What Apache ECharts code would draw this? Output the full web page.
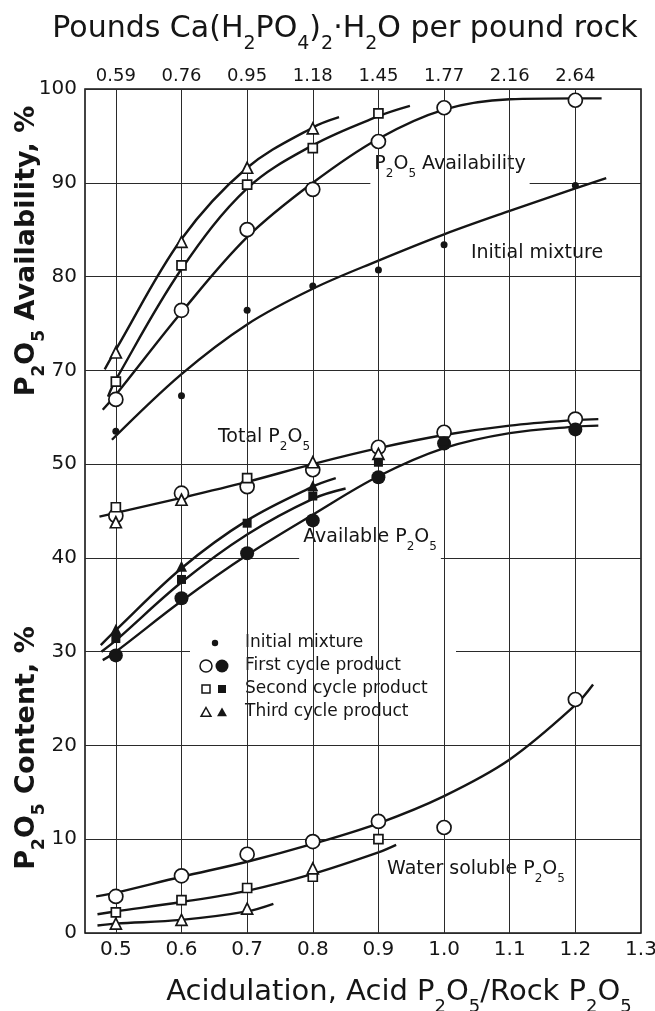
<!DOCTYPE html>
<html><head><meta charset="utf-8">
<script src="https://cdn.jsdelivr.net/npm/echarts@6/dist/echarts.min.js"></script>
<style>html,body{margin:0;padding:0;background:#fff}#c{width:655px;height:1011px}</style>
</head><body><div id="c"></div>
<script>
// ---------- axis ticks ----------
const acidulation = [0.5, 0.6, 0.7, 0.8, 0.9, 1.0, 1.1, 1.2];
const bottomTicks = [0.5, 0.6, 0.7, 0.8, 0.9, 1.0, 1.1, 1.2, 1.3];
const topTickLabels = ['0.59', '0.76', '0.95', '1.18', '1.45', '1.77', '2.16', '2.64'];
// upper (availability) scale is broken: availability % = plotted value + 10 above the 50 line
const availAxisShift = 10;

// ---------- P2O5 availability, % (markers) ----------
const initialAvailPts = [[0.5, 63.5], [0.6, 67.3], [0.7, 76.4], [0.8, 79.0], [0.9, 80.7], [1.0, 83.4], [1.2, 89.7]];
const firstAvailPts = [[0.5, 66.9], [0.6, 76.4], [0.7, 85.0], [0.8, 89.3], [0.9, 94.4], [1.0, 98.0], [1.2, 98.8]];
const secondAvailPts = [[0.5, 68.8], [0.6, 81.2], [0.7, 89.8], [0.8, 93.7], [0.9, 97.4]];
const thirdAvailPts = [[0.5, 71.9], [0.6, 83.7], [0.7, 91.6], [0.8, 95.8]];
// ---------- availability curves ----------
const initialAvailCurve = [[0.494, 62.6], [0.6, 69.6], [0.7, 74.9], [0.8, 78.7], [0.9, 81.7], [1.0, 84.5], [1.1, 87.0], [1.2, 89.4], [1.247, 90.5]];
const firstAvailCurve = [[0.48, 65.8], [0.5, 67.4], [0.6, 76.2], [0.7, 84.2], [0.8, 90.0], [0.9, 94.7], [1.0, 97.8], [1.1, 98.9], [1.2, 99.0], [1.24, 99.0]];
const secondAvailCurve = [[0.488, 67.2], [0.5, 69.0], [0.6, 80.8], [0.7, 89.4], [0.8, 94.0], [0.9, 97.1], [0.948, 98.2]];
const thirdAvailCurve = [[0.483, 70.1], [0.5, 72.2], [0.6, 84.0], [0.7, 91.6], [0.8, 95.9], [0.84, 97.0]];

// ---------- Total P2O5 content, % ----------
const totalFirstPts = [[0.5, 44.5], [0.6, 46.9], [0.7, 47.6], [0.8, 49.4], [0.9, 51.8], [1.0, 53.4], [1.2, 54.8]];
const totalSecondPts = [[0.5, 45.4], [0.7, 48.5]];
const totalThirdPts = [[0.5, 43.8], [0.6, 46.2], [0.8, 50.2], [0.9, 51.1]];
const totalCurve = [[0.475, 44.4], [0.5, 44.8], [0.6, 46.4], [0.7, 48.1], [0.8, 50.0], [0.9, 51.7], [1.0, 53.1], [1.1, 54.1], [1.2, 54.7], [1.235, 54.8]];

// ---------- Available P2O5 content, % ----------
const availFirstPts = [[0.5, 29.6], [0.6, 35.7], [0.7, 40.5], [0.8, 44.0], [0.9, 48.6], [1.0, 52.2], [1.2, 53.7]];
const availSecondPts = [[0.5, 31.4], [0.6, 37.7], [0.7, 43.7], [0.8, 46.6], [0.9, 50.2], [1.0, 52.5]];
const availThirdPts = [[0.5, 32.4], [0.6, 39.1], [0.8, 47.7]];
const availFirstCurve = [[0.48, 29.1], [0.5, 30.0], [0.6, 35.4], [0.7, 40.3], [0.8, 44.6], [0.9, 48.7], [1.0, 51.7], [1.1, 53.3], [1.2, 54.0], [1.235, 54.1]];
const availSecondCurve = [[0.478, 30.0], [0.5, 31.2], [0.6, 37.4], [0.7, 42.5], [0.8, 46.3], [0.85, 47.4]];
const availThirdCurve = [[0.477, 30.7], [0.5, 32.3], [0.6, 38.9], [0.7, 44.0], [0.8, 47.6], [0.835, 48.5]];

// ---------- Water soluble P2O5 content, % ----------
const waterFirstPts = [[0.5, 3.9], [0.6, 6.1], [0.7, 8.4], [0.8, 9.75], [0.9, 11.9], [1.0, 11.25], [1.2, 24.9]];
const waterSecondPts = [[0.5, 2.2], [0.6, 3.5], [0.7, 4.8], [0.8, 6.0], [0.9, 10.0]];
const waterThirdPts = [[0.5, 1.0], [0.6, 1.4], [0.7, 2.6], [0.8, 6.9]];
const waterFirstCurve = [[0.47, 3.9], [0.5, 4.3], [0.6, 6.0], [0.7, 7.6], [0.8, 9.5], [0.9, 11.7], [1.0, 14.6], [1.1, 18.5], [1.2, 24.3], [1.227, 26.5]];
const waterSecondCurve = [[0.472, 2.0], [0.5, 2.3], [0.6, 3.3], [0.7, 4.5], [0.8, 6.3], [0.9, 8.6], [0.927, 9.4]];
const waterThirdCurve = [[0.472, 0.8], [0.5, 1.0], [0.6, 1.4], [0.7, 2.3], [0.74, 3.1]];

// ---------- rendering ----------
const INK = '#151515';
const FONT = "'DejaVu Sans', sans-serif";
const shiftAvail = pts => pts.map(([x, a]) => [x, a - availAxisShift]);

function toRich(s) {
  let out = '', buf = '';
  for (let i = 0; i < s.length; i++) {
    if (s[i] === '_') { if (buf) out += '{n|' + buf + '}'; buf = ''; out += '{s|' + s[i + 1] + '}'; i++; }
    else buf += s[i];
  }
  if (buf) out += '{n|' + buf + '}';
  return out;
}
function richStyles(size, weight) {
  return {
    n: { fontSize: size, fontFamily: FONT, fontWeight: weight, lineHeight: Math.round(size * 1.3), verticalAlign: 'top', fill: INK, color: INK },
    s: { fontSize: Math.round(size * 0.62), fontFamily: FONT, fontWeight: weight, lineHeight: Math.round(size * 0.5), verticalAlign: 'bottom', fill: INK, color: INK }
  };
}
function label(str, x, y, size, opt) {
  opt = opt || {};
  const st = {
    text: toRich(str), rich: richStyles(size, opt.weight || 'normal'),
    align: 'center', verticalAlign: 'middle', textAlign: 'center', textVerticalAlign: 'middle'
  };
  if (opt.bg) { st.backgroundColor = '#fff'; st.padding = opt.pad || [1, 4, 1, 4]; }
  return { type: 'text', x: x, y: y, rotation: opt.rot || 0, z: opt.z || 3, silent: true, style: st };
}

function curveSeries(data) {
  return { type: 'line', data: data, smooth: 0.35, symbol: 'none', z: 4, silent: true,
    lineStyle: { color: INK, width: 2.4 } };
}
function markerSeries(data, symbol, size, filled) {
  return { type: 'scatter', data: data, symbol: symbol, symbolSize: size, z: 5, silent: true,
    itemStyle: { color: filled ? INK : '#fff', borderColor: INK, borderWidth: filled ? 0 : 1.7, opacity: 1 } };
}

const series = [
  { type: 'line', data: [], z: 1, silent: true,
    markLine: { symbol: 'none', silent: true, animation: false, label: { show: false },
      lineStyle: { color: '#2a2a2a', width: 1, type: 'solid' },
      data: acidulation.map(x => ({ xAxis: x })) } },
  curveSeries(shiftAvail(initialAvailCurve)),
  curveSeries(shiftAvail(firstAvailCurve)),
  curveSeries(shiftAvail(secondAvailCurve)),
  curveSeries(shiftAvail(thirdAvailCurve)),
  curveSeries(totalCurve),
  curveSeries(availFirstCurve),
  curveSeries(availSecondCurve),
  curveSeries(availThirdCurve),
  curveSeries(waterFirstCurve),
  curveSeries(waterSecondCurve),
  curveSeries(waterThirdCurve),
  markerSeries(shiftAvail(initialAvailPts), 'circle', 7, true),
  markerSeries(shiftAvail(firstAvailPts), 'circle', 14, false),
  markerSeries(shiftAvail(secondAvailPts), 'rect', 9, false),
  markerSeries(shiftAvail(thirdAvailPts), 'triangle', 11, false),
  markerSeries(totalFirstPts, 'circle', 14, false),
  markerSeries(totalSecondPts, 'rect', 9, false),
  markerSeries(totalThirdPts, 'triangle', 11, false),
  markerSeries(availFirstPts, 'circle', 14, true),
  markerSeries(availSecondPts, 'rect', 9, true),
  markerSeries(availThirdPts, 'triangle', 11, true),
  markerSeries(waterFirstPts, 'circle', 14, false),
  markerSeries(waterSecondPts, 'rect', 9, false),
  markerSeries(waterThirdPts, 'triangle', 11, false)
];

// legend drawn as a small key box
const LX1 = 206, LX2 = 222, LT = 245;
const legendRows = [643, 666, 689, 712];
const legendTexts = ['Initial mixture', 'First cycle product', 'Second cycle product', 'Third cycle product'];
const keyStroke = { stroke: INK, lineWidth: 1.5, fill: '#fff' };
const keyFill = { fill: INK };
const tri = (cx, cy, r) => [[cx, cy - r], [cx + r * 0.9, cy + r * 0.6], [cx - r * 0.9, cy + r * 0.6]];
const legendEls = [
  { type: 'rect', z: 3, silent: true, shape: { x: 190, y: 628, width: 266, height: 96 }, style: { fill: '#fff' } },
  { type: 'circle', z: 4, silent: true, shape: { cx: 215, cy: legendRows[0], r: 3.2 }, style: keyFill },
  { type: 'circle', z: 4, silent: true, shape: { cx: LX1, cy: legendRows[1], r: 6 }, style: keyStroke },
  { type: 'circle', z: 4, silent: true, shape: { cx: LX2, cy: legendRows[1], r: 6.5 }, style: keyFill },
  { type: 'rect', z: 4, silent: true, shape: { x: LX1 - 4, y: legendRows[2] - 4, width: 8, height: 8 }, style: keyStroke },
  { type: 'rect', z: 4, silent: true, shape: { x: LX2 - 4, y: legendRows[2] - 4, width: 8, height: 8 }, style: keyFill },
  { type: 'polygon', z: 4, silent: true, shape: { points: tri(LX1, legendRows[3] + 1, 5.5) }, style: keyStroke },
  { type: 'polygon', z: 4, silent: true, shape: { points: tri(LX2, legendRows[3] + 1, 5.5) }, style: keyFill }
].concat(legendTexts.map((t, i) => ({
  type: 'text', z: 4, silent: true, x: LT, y: legendRows[i],
  style: { text: t, font: '17px ' + FONT, fill: INK, align: 'left', verticalAlign: 'middle', textAlign: 'left', textVerticalAlign: 'middle' }
})));

const graphics = [
  label('Pounds Ca(H_2PO_4)_2·H_2O per pound rock', 345, 34, 30),
  label('Acidulation, Acid P_2O_5/Rock P_2O_5', 399, 997, 29),
  label('P_2O_5 Availability, %', 31, 251, 27, { rot: Math.PI / 2, weight: 'bold' }),
  label('P_2O_5 Content, %', 31, 748, 27, { rot: Math.PI / 2, weight: 'bold' }),
  label('P_2O_5 Availability', 450, 170, 19, { bg: true, pad: [1, 4, 6, 4] }),
  label('Initial mixture', 537, 256, 19, { bg: true }),
  label('Total P_2O_5', 264, 440, 19, { bg: true }),
  label('Available P_2O_5', 370, 543, 19, { bg: true, pad: [1, 4, 6, 4] }),
  label('Water soluble P_2O_5', 476, 872, 19, { bg: true })
].concat(legendEls);

const axisFont = { fontFamily: FONT, color: INK };
const option = {
  animation: false,
  backgroundColor: '#fff',
  grid: { left: 85, right: 14, top: 89, bottom: 78, outerBoundsMode: 'none', containLabel: false,
    show: true, borderColor: INK, borderWidth: 1.6, backgroundColor: 'transparent' },
  xAxis: [
    { type: 'value', min: 0.453, max: 1.3, position: 'bottom',
      axisLine: { show: false }, axisTick: { show: false }, splitLine: { show: false },
      axisLabel: Object.assign({ customValues: bottomTicks, fontSize: 20, margin: 7,
        formatter: v => v.toFixed(1) }, axisFont) },
    { type: 'value', min: 0.453, max: 1.3, position: 'top',
      axisLine: { show: false }, axisTick: { show: false }, splitLine: { show: false },
      axisLabel: Object.assign({ customValues: acidulation, fontSize: 18, margin: 4,
        formatter: v => { const i = acidulation.findIndex(a => Math.abs(a - v) < 1e-6); return i >= 0 ? topTickLabels[i] : ''; } }, axisFont) }
  ],
  yAxis: { type: 'value', min: 0, max: 90, interval: 10,
    axisLine: { show: false }, axisTick: { show: false },
    splitLine: { show: true, lineStyle: { color: '#2a2a2a', width: 1 } },
    axisLabel: Object.assign({ fontSize: 20, margin: 8,
      formatter: v => String(v > 50 ? v + availAxisShift : v) }, axisFont) },
  series: series,
  graphic: { elements: graphics }
};
const chart = echarts.init(document.getElementById('c'), null, { renderer: 'canvas' });
chart.setOption(option);
</script></body></html>
